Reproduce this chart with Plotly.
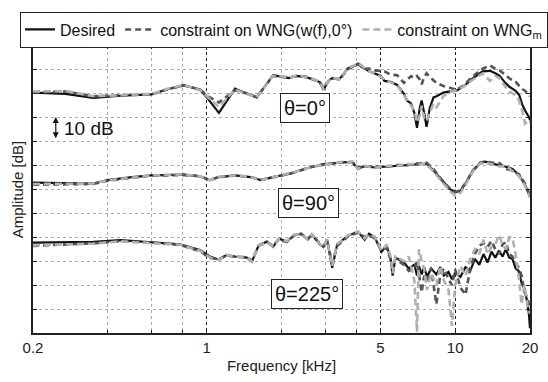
import math
import plotly.graph_objects as go

# ---------------- data ----------------
# theta = 0 deg
f_0 = [0.20, 0.27, 0.35, 0.45, 0.60, 0.70, 0.81, 0.94, 1.01, 1.12, 1.30, 1.45, 1.59, 1.85, 2.00,
       2.14, 2.30, 2.50, 2.74, 2.85, 2.95, 3.10, 3.20, 3.40, 3.50, 3.70, 3.90, 4.06, 4.20, 4.32,
       4.50, 4.74, 5.00, 5.19, 5.50, 5.84, 6.22, 6.40, 6.64, 6.85, 7.02, 7.20, 7.33, 7.50, 7.67,
       7.90, 8.18, 8.41, 8.97, 9.50, 10.1, 10.8, 11.8, 12.9, 13.8, 14.5, 15.1, 15.9, 16.5, 17.5,
       18.1, 18.6, 19.1, 19.8, 20.0]
des_0 = [100.5, 100.0, 98.3, 99.2, 99.8, 102.0, 103.5, 101.8, 98.0, 92.0, 102.2, 100.0, 98.5, 107.8, 107.2,
         106.6, 107.5, 107.0, 105.8, 104.8, 101.7, 105.6, 106.6, 106.0, 107.4, 110.7, 111.5, 112.5, 111.2, 110.7,
         109.4, 108.6, 107.6, 105.4, 105.0, 103.7, 100.0, 97.2, 96.0, 92.0, 85.8, 94.0, 97.2, 92.0, 86.2,
         94.0, 98.5, 99.0, 100.5, 101.0, 101.3, 103.0, 106.6, 109.4, 109.6, 108.6, 107.5, 104.6, 103.0, 101.3,
         99.5, 95.6, 93.0, 90.3, 89.0]
wng_0 = [100.5, 101.0, 99.0, 99.4, 99.8, 102.0, 103.5, 101.8, 99.0, 96.4, 101.5, 100.2, 98.6, 107.5, 107.0,
         106.8, 107.4, 107.2, 105.6, 105.2, 102.5, 105.4, 106.4, 106.3, 107.2, 110.4, 111.5, 112.6, 111.8, 110.5,
         110.6, 109.8, 109.6, 109.4, 108.0, 107.8, 104.6, 106.0, 107.4, 106.5, 107.4, 106.0, 104.0, 107.0, 108.6,
         107.0, 105.8, 104.5, 103.3, 102.5, 101.7, 103.5, 107.4, 110.5, 111.9, 110.5, 109.8, 108.0, 106.5, 105.0,
         103.5, 102.0, 101.3, 99.7, 99.0]
wngm_0 = [101.0, 101.2, 99.0, 99.5, 99.9, 102.2, 103.7, 101.5, 98.5, 94.5, 101.8, 100.0, 98.5, 107.5, 107.4,
          106.6, 107.6, 107.0, 105.8, 104.8, 102.0, 105.6, 106.8, 106.0, 107.4, 110.9, 111.7, 112.8, 111.5, 110.8,
          109.5, 108.4, 107.2, 106.0, 104.8, 103.5, 99.5, 97.6, 95.5, 93.0, 88.0, 91.0, 95.0, 90.0, 88.5,
          92.0, 96.0, 94.4, 99.0, 100.8, 101.5, 103.0, 106.0, 108.5, 105.4, 107.5, 106.5, 103.0, 101.0, 99.5,
          97.0, 93.0, 87.6, 89.0, 88.0]

# theta = 90 deg
f_90 = [0.20, 0.35, 0.40, 0.50, 0.60, 0.81, 0.94, 1.03, 1.12, 1.30, 1.50, 1.65, 1.85, 2.14, 2.30,
        2.50, 2.74, 2.95, 3.20, 3.50, 3.70, 3.85, 4.06, 4.32, 4.74, 5.19, 5.84, 6.40, 7.02, 7.67,
        8.18, 8.97, 9.50, 10.0, 10.5, 11.0, 11.8, 12.6, 13.2, 14.1, 15.1, 16.0, 17.0, 18.1, 19.1,
        19.8, 20.0]
des_90 = [62.9, 62.5, 63.9, 65.2, 65.9, 66.2, 65.5, 63.9, 65.2, 65.9, 65.2, 63.9, 65.2, 66.5, 67.5,
          68.8, 69.7, 70.6, 70.8, 71.5, 71.3, 71.6, 68.6, 69.8, 69.2, 69.5, 70.0, 70.5, 70.6, 70.8,
          67.9, 62.9, 60.2, 58.8, 59.4, 62.5, 68.0, 71.0, 71.6, 70.8, 70.2, 69.5, 68.6, 65.9, 62.0,
          58.0, 57.0]
wng_90 = [62.0, 62.3, 63.7, 65.0, 65.8, 66.0, 65.6, 64.0, 65.2, 65.8, 65.3, 64.0, 65.0, 66.5, 67.4,
          68.6, 69.9, 70.4, 71.0, 71.3, 71.4, 71.5, 69.2, 69.7, 69.6, 69.4, 70.2, 70.2, 70.9, 71.2,
          68.5, 63.2, 60.5, 59.0, 59.6, 62.7, 68.0, 71.2, 71.8, 71.2, 71.0, 68.6, 68.0, 66.3, 62.5,
          58.5, 57.5]
wngm_90 = [62.3, 62.5, 63.8, 65.1, 65.9, 66.3, 65.5, 63.8, 65.3, 65.9, 65.2, 63.9, 65.2, 66.7, 67.6,
           68.8, 69.6, 70.7, 70.6, 71.6, 71.2, 71.7, 68.5, 69.9, 69.0, 69.8, 69.8, 70.6, 70.5, 70.6,
           67.5, 62.4, 59.4, 57.5, 58.6, 62.0, 67.6, 70.8, 71.2, 70.5, 69.6, 69.8, 67.8, 65.5, 61.5,
           57.5, 56.5]

# theta = 225 deg
f_225 = [0.20, 0.35, 0.45, 0.60, 0.78, 0.94, 1.03, 1.12, 1.20, 1.30, 1.45, 1.52, 1.62, 1.75, 1.85,
         1.95, 2.10, 2.25, 2.40, 2.55, 2.65, 2.85, 2.95, 3.05, 3.20, 3.35, 3.50, 3.70, 4.06, 4.32,
         4.50, 4.74, 5.05, 5.30, 5.50, 5.60, 5.75, 6.22, 6.50, 6.85, 7.02, 7.15, 7.33, 7.50, 7.70,
         8.00, 8.40, 8.70, 9.00, 9.40, 9.70, 10.0, 10.5, 11.0, 11.5, 12.0, 12.5, 13.0, 13.5, 14.0,
         14.5, 15.0, 15.5, 16.0, 16.5, 17.0, 17.5, 18.0, 18.5, 19.0, 19.5, 19.8, 20.0]
des_225 = [37.8, 38.1, 38.8, 37.8, 37.1, 34.7, 32.0, 30.6, 32.6, 32.0, 31.5, 29.8, 36.8, 38.2, 36.0,
           39.5, 38.2, 41.0, 41.5, 39.0, 41.2, 37.0, 36.0, 39.0, 27.3, 37.0, 38.6, 40.7, 42.3, 39.0,
           41.5, 40.0, 34.0, 36.5, 31.0, 24.0, 31.5, 29.5, 27.0, 28.5, 24.0, 28.0, 24.5, 27.5, 23.5,
           27.0, 24.5, 27.5, 24.0, 25.5, 22.5, 25.0, 23.5, 27.5, 26.0, 31.0, 28.5, 33.0, 29.5, 34.0,
           31.5, 34.5, 32.0, 35.0, 31.5, 31.0, 27.0, 26.0, 21.0, 18.5, 13.0, 8.0, 2.0]
wng_225 = [36.4, 37.5, 38.4, 37.8, 36.8, 34.2, 31.4, 30.8, 32.5, 31.8, 31.8, 30.2, 36.5, 38.0, 36.4,
           39.2, 38.0, 40.8, 41.4, 39.5, 41.0, 37.5, 36.3, 38.7, 29.0, 36.5, 38.2, 40.3, 42.0, 40.0,
           41.0, 39.5, 35.0, 35.5, 30.5, 27.0, 31.0, 28.5, 26.0, 27.0, 30.0, 24.0, 17.0, 24.0, 22.0,
           27.0, 12.0, 24.0, 27.0, 22.5, 20.0, 26.5, 19.0, 16.0, 27.0, 33.0, 36.5, 37.5, 36.0, 38.5,
           35.0, 33.0, 37.0, 38.0, 33.0, 32.0, 29.0, 27.5, 24.0, 17.0, 15.0, 12.0, 11.0]
wngm_225 = [36.6, 37.4, 38.3, 37.6, 36.9, 34.4, 31.6, 30.5, 32.7, 32.0, 31.6, 29.9, 36.7, 38.1, 36.2,
            39.5, 38.4, 41.2, 41.3, 39.0, 41.3, 37.2, 36.0, 39.1, 28.0, 37.2, 38.8, 40.8, 42.5, 39.5,
            41.2, 40.3, 34.5, 37.0, 32.0, 25.0, 32.0, 30.0, 32.0, 22.0, 0.5, 35.0, 30.0, 27.0, 18.0,
            25.0, 20.0, 28.0, 22.0, 18.0, 3.0, 20.0, 28.0, 24.0, 31.0, 35.0, 33.0, 39.0, 33.0, 36.0,
            37.0, 41.0, 37.0, 35.0, 40.0, 39.8, 33.0, 24.0, 12.0, 20.0, 12.0, 9.0, 8.0]

series_names = ["Desired", "constraint on WNG(w(f),0°)", "constraint on WNG<sub>m</sub>"]
major_ticks = [0.2, 1, 5, 10, 20]
major_labels = ["0.2", "1", "5", "10", "20"]
minor_ticks = [0.4, 0.6, 0.8, 2, 3, 4]
angle_labels = ["θ=0°", "θ=90°", "θ=225°"]

# ---------------- styles ----------------
FONT = "Liberation Sans, Arial, sans-serif"
styles = [
    dict(color="#111111", width=2.2, dash="solid"),
    dict(color="#555555", width=2.6, dash="6px,4px"),
    dict(color="#b0b0b0", width=2.6, dash="7px,4px"),
]

fig = go.Figure()
groups = [(f_0, [des_0, wng_0, wngm_0]),
          (f_90, [des_90, wng_90, wngm_90]),
          (f_225, [des_225, wng_225, wngm_225])]
for gi, (fx, ys) in enumerate(groups):
    for si, yv in enumerate(ys):
        fig.add_trace(go.Scatter(
            x=fx, y=yv, mode="lines", name=series_names[si],
            line=styles[si], showlegend=(gi == 0), legendgroup=str(si)))

# angle labels
label_pos = [(2.48, 94.2), (2.57, 54.5), (2.53, 16.1)]
for (fx, yy), txt in zip(label_pos, angle_labels):
    fig.add_annotation(x=math.log10(fx), y=yy, xref="x", yref="y", text=txt,
                       showarrow=False, font=dict(family=FONT, size=20, color="#111"),
                       bordercolor="#222", borderwidth=1, borderpad=3, bgcolor="white")

# 10 dB scale arrow
fig.add_annotation(x=math.log10(0.247), y=90.3, ax=math.log10(0.247), ay=80.8,
                   xref="x", yref="y", axref="x", ayref="y", text="",
                   showarrow=True, arrowside="end+start", arrowhead=2, arrowsize=1,
                   arrowwidth=1.2, arrowcolor="#111")
fig.add_annotation(x=math.log10(0.262), y=85.5, xref="x", yref="y", text="10 dB",
                   showarrow=False, xanchor="left", font=dict(family=FONT, size=19, color="#111"))

fig.update_layout(
    width=548, height=382,
    margin=dict(l=33, r=10, t=46, b=40),
    paper_bgcolor="white", plot_bgcolor="white",
    font=dict(family=FONT, size=15, color="#222"),
    showlegend=True,
    legend=dict(orientation="h", x=-0.022, y=1.12, xanchor="left", yanchor="top",
                bordercolor="#222", borderwidth=1, bgcolor="white",
                font=dict(family=FONT, size=16, color="#111"), itemwidth=30,
                tracegroupgap=0),
)
fig.update_xaxes(
    type="log", range=[math.log10(0.2), math.log10(20)],
    tickvals=major_ticks, ticktext=major_labels, ticks="inside", ticklen=4,
    tickcolor="#222", tickfont=dict(family=FONT, size=15, color="#222"),
    showline=True, linecolor="#222", linewidth=1.5, mirror="ticks",
    showgrid=True, gridcolor="#222", griddash="dot", gridwidth=1,
    minor=dict(tickvals=minor_ticks, ticks="inside", ticklen=3, tickcolor="#222",
               showgrid=True, gridcolor="#aaaaaa", griddash="dot", gridwidth=1),
    title=dict(text="Frequency [kHz]", font=dict(family=FONT, size=15, color="#222"), standoff=6),
    zeroline=False,
)
fig.update_yaxes(
    range=[0, 120], dtick=10, tick0=0, showticklabels=False, ticks="inside", ticklen=4,
    tickcolor="#222", showline=True, linecolor="#222", linewidth=1.5, mirror="ticks",
    showgrid=True, gridcolor="#aaaaaa", griddash="dot", gridwidth=1, zeroline=False,
    title=dict(text="Amplitude [dB]", font=dict(family=FONT, size=15, color="#222"), standoff=4),
)

fig.write_html("out.html")
